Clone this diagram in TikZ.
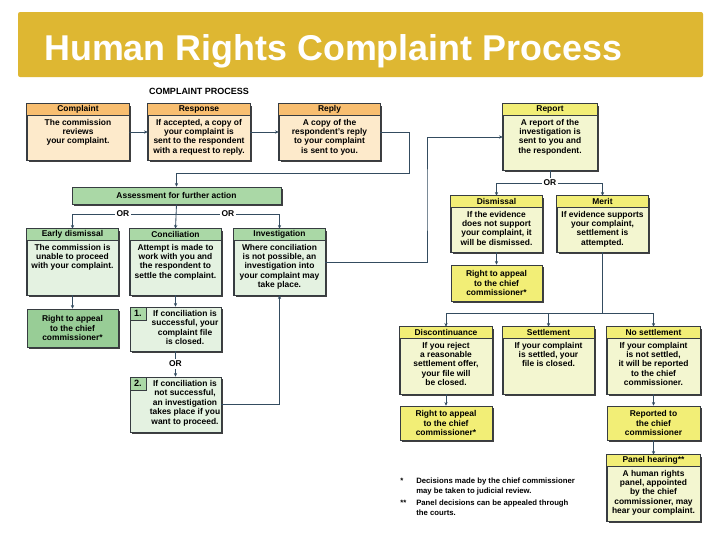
\documentclass[tikz,border=0pt]{standalone}
\usepackage{fontspec}
\setmainfont{Liberation Sans}
\usetikzlibrary{
    arrows.meta,
    calc,
    fit,
    shadows,
    positioning
}
\definecolor{bannergold}{RGB}{222,183,50}
\definecolor{orhead}{RGB}{248,190,112}
\definecolor{orbody}{RGB}{253,234,203}
\definecolor{yehead}{RGB}{242,238,118}
\definecolor{yebody}{RGB}{243,246,208}
\definecolor{grhead}{RGB}{170,216,166}
\definecolor{grbody}{RGB}{228,242,225}
\definecolor{grfull}{RGB}{152,205,150}
\definecolor{linkcol}{RGB}{52,76,96}
\definecolor{edgecol}{RGB}{55,60,65}
\tikzset{
    boxframe/.style={draw=edgecol, line width=0.5pt, inner sep=0pt,
        drop shadow={shadow xshift=1.3pt, shadow yshift=-1.3pt, fill=black!75, opacity=1}},
    boxedge/.style={draw=edgecol, line width=0.5pt},
    headtext/.style={font=\fontsize{6}{6.7}\selectfont\bfseries, inner sep=0pt},
    bodytext/.style={font=\fontsize{6}{6.7}\selectfont\bfseries, align=center, inner sep=0pt},
    link/.style={draw=linkcol, line width=0.6pt},
    flowarrow/.style={link, -{Stealth[length=2.6pt, width=2.4pt]}},
    ornote/.style={fill=white, font=\fontsize{6}{6}\selectfont\bfseries, inner sep=1.2pt},
    badge/.style={draw=edgecol, fill=grhead, line width=0.5pt, anchor=north west,
        font=\fontsize{6.5}{6.5}\selectfont\bfseries, minimum width=11.3pt, minimum height=9.2pt, inner sep=0pt},
    note/.style={font=\fontsize{5.5}{6.6}\selectfont\bfseries, align=left, inner sep=0pt, anchor=north west}
}
% box with a coloured header strip: name, x1, y1, x2, y2, head, body, title, text
\newcommand{\flowbox}[9]{%
    \node[boxframe, fill=#7, fit={(#2,#3) (#4,#5)}] (#1) {};
    \fill[#6] (#1.north west) rectangle ($(#1.north east)+(0,12)$);
    \draw[boxedge] ($(#1.north west)+(0,12)$) -- ($(#1.north east)+(0,12)$);
    \draw[boxedge] (#1.north west) rectangle (#1.south east);
    \node[headtext] at ($(#1.north)+(0,6)$) {#8};
    \node[bodytext, anchor=north] at ($(#1.north)+(0,15)$) {#9};
}
% plain box: name, x1, y1, x2, y2, fill, text
\newcommand{\plainbox}[7]{%
    \node[boxframe, fill=#6, fit={(#2,#3) (#4,#5)}] (#1) {};
    \node[bodytext] at (#1) {#7};
}

\begin{document}
\begin{tikzpicture}[x=0.025cm, y=-0.025cm]
    \useasboundingbox[fill=white] (0,0) rectangle (720,540);

    % title banner
    \fill[bannergold, rounded corners=1.5pt] (18,12) rectangle (703,77);
    \node[anchor=base west, text=white, inner sep=0pt,
        font=\fontsize{25.5}{26}\selectfont\bfseries] (title) at (44,60) {Human Rights Complaint Process};
    \node[headtext, font=\fontsize{6.4}{7}\selectfont\bfseries] (chart) at (199,91) {COMPLAINT PROCESS};

    % first row
    \flowbox{complaint}{27}{104}{129}{160}{orhead}{orbody}{Complaint}{The commission\\reviews\\your complaint.}
    \flowbox{response}{148}{104}{250}{160}{orhead}{orbody}{Response}{If accepted, a copy of\\your complaint is\\sent to the respondent\\with a request to reply.}
    \flowbox{reply}{279}{104}{380}{160}{orhead}{orbody}{Reply}{A copy of the\\respondent's reply\\to your complaint\\is sent to you.}
    \flowbox{report}{503}{104}{597}{170}{yehead}{yebody}{Report}{A report of the\\investigation is\\sent to you and\\the respondent.}

    % assessment branch
    \plainbox{assess}{72}{187}{281}{204}{grhead}{Assessment for further action}
    \flowbox{early}{27}{229}{118}{295}{grhead}{grbody}{Early dismissal}{The commission is\\unable to proceed\\with your complaint.}
    \flowbox{concil}{130}{229}{221}{295}{grhead}{grbody}{Conciliation}{Attempt is made to\\work with you and\\the respondent to\\settle the complaint.}
    \flowbox{invest}{234}{229}{325}{295}{grhead}{grbody}{Investigation}{Where conciliation\\is not possible, an\\investigation into\\your complaint may\\take place.}
    \plainbox{appealL}{27}{309}{118}{347}{grfull}{Right to appeal\\to the chief\\commissioner*}

    \node[boxframe, fill=grbody, fit={(130,307) (221,351)}] (stepone) {};
    \node[badge] (badgeone) at (stepone.north west) {1.};
    \node[bodytext, anchor=north] at (185,310) {If conciliation is\\successful, your\\complaint file\\is closed.};
    \node[boxframe, fill=grbody, fit={(130,377) (221,432)}] (steptwo) {};
    \node[badge] (badgetwo) at (steptwo.north west) {2.};
    \node[bodytext, anchor=north] at (185,380) {If conciliation is\\not successful,\\an investigation\\takes place if you\\want to proceed.};

    % report branch
    \flowbox{dismiss}{451}{196}{542}{252}{yehead}{yebody}{Dismissal}{If the evidence\\does not support\\your complaint, it\\will be dismissed.}
    \flowbox{merit}{557}{196}{648}{252}{yehead}{yebody}{Merit}{If evidence supports\\your complaint,\\settlement is\\attempted.}
    \plainbox{appealM}{451}{265}{542}{301}{yehead}{Right to appeal\\to the chief\\commissioner*}
    \flowbox{discont}{400}{327}{492}{394}{yehead}{yebody}{Discontinuance}{If you reject\\a reasonable\\settlement offer,\\your file will\\be closed.}
    \flowbox{settle}{503}{327}{594}{394}{yehead}{yebody}{Settlement}{If your complaint\\is settled, your\\file is closed.}
    \flowbox{noset}{607}{327}{700}{394}{yehead}{yebody}{No settlement}{If your complaint\\is not settled,\\it will be reported\\to the chief\\commissioner.}
    \plainbox{appealB}{400}{406}{492}{440}{yehead}{Right to appeal\\to the chief\\commissioner*}
    \plainbox{reported}{607}{406}{700}{440}{yehead}{Reported to\\the chief\\commissioner}
    \flowbox{panel}{607}{455}{700}{521}{yehead}{yebody}{Panel hearing**}{A human rights\\panel, appointed\\by the chief\\commissioner, may\\hear your complaint.}

    % footnotes
    \node[note] (starone) at (400,478) {*};
    \node[note] (noteone) at (416,478) {Decisions made by the chief commissioner\\may be taken to judicial review.};
    \node[note] (startwo) at (400,500) {**};
    \node[note] (notetwo) at (416,500) {Panel decisions can be appealed through\\the courts.};

    % connectors
    \coordinate (turnA) at (409,173);
    \coordinate (turnB) at (427,200);
    \coordinate (splitA) at (176,214);
    \coordinate (splitR) at (550,183);
    \coordinate (splitM) at ($(merit.south)+(0,61)$);

    \draw[flowarrow] (complaint) -- (response);
    \draw[flowarrow] (response) -- (reply);
    \draw[flowarrow] (reply.east) -| (turnA) -| (assess.north);
    \draw[flowarrow] (invest.east) -| (turnB) |- (report.west);

    \draw[flowarrow] (assess.south) -- (concil.north);
    \draw[flowarrow] (splitA) -| (early.north);
    \draw[flowarrow] (splitA) -| (invest.north);
    \node[ornote] (orA) at (123,214) {OR};
    \node[ornote] (orB) at (228,214) {OR};
    \draw[flowarrow] (early) -- (appealL);
    \draw[flowarrow] (concil) -- (stepone);
    \draw[flowarrow] (stepone) -- (steptwo);
    \node[ornote] (orC) at (175.5,364) {OR};
    \draw[flowarrow] (steptwo.east) -| (invest.south);

    \draw[link] (report.south) -- (splitR);
    \draw[flowarrow] (splitR) -| (dismiss.north);
    \draw[flowarrow] (splitR) -| (merit.north);
    \node[ornote] (orD) at (splitR) {OR};
    \draw[flowarrow] (dismiss) -- (appealM);

    \draw[link] (merit.south) -- (splitM);
    \draw[flowarrow] (splitM) -| (discont.north);
    \draw[flowarrow] (splitM) -| (settle.north);
    \draw[flowarrow] (splitM) -| (noset.north);
    \draw[flowarrow] (discont) -- (appealB);
    \draw[flowarrow] (noset) -- (reported);
    \draw[flowarrow] (reported) -- (panel);
\end{tikzpicture}
\end{document}
